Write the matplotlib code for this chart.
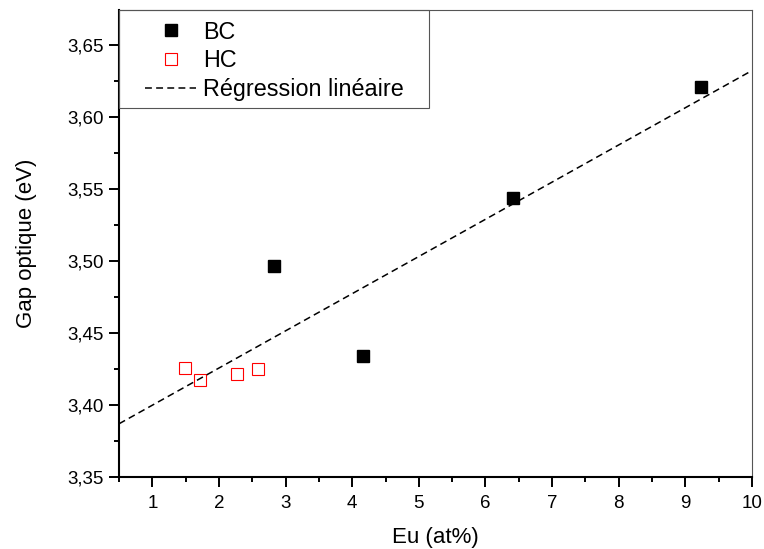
import matplotlib.pyplot as plt
import numpy as np
from matplotlib.patches import Rectangle
from matplotlib.ticker import FuncFormatter, MultipleLocator

plt.rcParams['font.family'] = ['Liberation Sans', 'DejaVu Sans']

# BC samples
bc_x = [2.82, 4.16, 6.41, 9.23]
bc_y = [3.496, 3.434, 3.5435, 3.6206]
# HC samples
hc_x = [1.49, 1.71, 2.27, 2.58]
hc_y = [3.4255, 3.417, 3.421, 3.4247]

# linear regression over all points
all_x = np.array(bc_x + hc_x)
all_y = np.array(bc_y + hc_y)
slope, inter = np.polyfit(all_x, all_y, 1)
xr = np.array([0.5, 10])

fig = plt.figure(figsize=(7.64, 5.49), dpi=100)
ax = fig.add_axes([0.1558, 0.1317, 0.8285, 0.8501])

ax.plot(bc_x, bc_y, 's', color='black', markersize=8, label='BC')
ax.plot(hc_x, hc_y, 's', mfc='white', mec='red', mew=0.8, markersize=8, label='HC')
ax.plot(xr, slope * xr + inter, '--', color='black', lw=1.1, dashes=(4.5, 2.8),
        label='Régression linéaire')

ax.set_xlim(0.5, 10)
ax.set_ylim(3.35, 3.674)
ax.xaxis.set_major_locator(MultipleLocator(1))
ax.xaxis.set_minor_locator(MultipleLocator(0.5))
ax.yaxis.set_major_locator(MultipleLocator(0.05))
ax.yaxis.set_minor_locator(MultipleLocator(0.025))
ax.yaxis.set_major_formatter(FuncFormatter(lambda v, p: f'{v:.2f}'.replace('.', ',')))

for s in ['left', 'bottom']:
    ax.spines[s].set_linewidth(1.5)
for s in ['top', 'right']:
    ax.spines[s].set_linewidth(0.8)
    ax.spines[s].set_color('#555555')
ax.tick_params(which='major', direction='out', length=7, width=1.4, labelsize=13.5, pad=4)
ax.tick_params(axis='x', which='major', pad=6)
ax.tick_params(which='minor', direction='out', length=3.6, width=1.4)
ax.tick_params(top=False, right=False, which='both')

ax.set_xlabel('Eu (at%)', fontsize=16, labelpad=11)
ax.set_ylabel('Gap optique (eV)', fontsize=16, labelpad=22)

# legend box drawn separately (wider horizontal padding than matplotlib's uniform borderpad)
ax.add_patch(Rectangle((0, 0.790), 0.4897, 0.21, transform=ax.transAxes, fill=False,
                       edgecolor='#555555', lw=0.8, zorder=4, clip_on=False))
leg = ax.legend(loc='upper left', bbox_to_anchor=(0.041, 0.9773), borderaxespad=0, fontsize=16.8,
                frameon=False, handlelength=2.2, handletextpad=0.3,
                labelspacing=0.24, borderpad=0)

plt.savefig('out.png', dpi=100)
